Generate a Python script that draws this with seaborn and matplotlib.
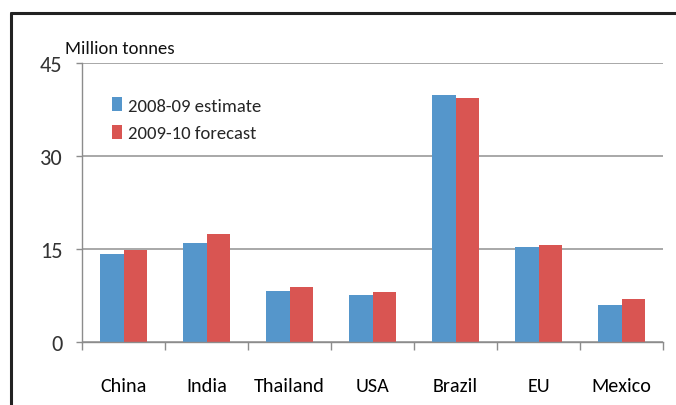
import matplotlib
matplotlib.use("Agg")
import matplotlib.pyplot as plt
import matplotlib.lines as mlines
import seaborn as sns
import pandas as pd

# Sugar production by country, million tonnes
countries = ["China", "India", "Thailand", "USA", "Brazil", "EU", "Mexico"]
estimate_2008_09 = [14.2, 15.9, 8.2, 7.6, 39.8, 15.4, 6.0]
forecast_2009_10 = [14.9, 17.4, 8.8, 8.0, 39.4, 15.6, 7.0]
series_names = ["2008-09 estimate", "2009-10 forecast"]
y_ticks = [0, 15, 30, 45]

df = pd.DataFrame({
    "country": countries * 2,
    "value": estimate_2008_09 + forecast_2009_10,
    "series": [series_names[0]] * len(countries) + [series_names[1]] * len(countries),
})

sns.set_theme(style="white")
plt.rcParams["font.family"] = ["Carlito", "Lato", "DejaVu Sans"]

fig = plt.figure(figsize=(6.76, 4.06), dpi=100)
ax = fig.add_axes([82 / 676, 1 - 343 / 406, (663 - 82) / 676, (343 - 64) / 406])

palette = {series_names[0]: "#5596CB", series_names[1]: "#D95552"}
sns.barplot(data=df, x="country", y="value", hue="series", order=countries,
            hue_order=series_names, palette=palette, width=0.57, gap=0,
            saturation=1, edgecolor="none", linewidth=0, ax=ax)

ax.set_xlim(-0.5, len(countries) - 0.5)
ax.set_ylim(0, 45)
ax.set_yticks(y_ticks)
ax.yaxis.grid(True, color="#A8A8A8", linewidth=1.4)
ax.set_axisbelow(True)
ax.set_xlabel("")
ax.set_ylabel("")

for side in ("top", "right"):
    ax.spines[side].set_visible(False)
for side in ("left", "bottom"):
    ax.spines[side].set_color("#8C8C8C")
    ax.spines[side].set_linewidth(1.0)

# category labels at bar-group centres, tick marks at group boundaries
ax.set_xticks(range(len(countries)))
ax.set_xticklabels(countries, fontsize=14.5, color="#000000")
ax.set_xticks([i - 0.5 for i in range(len(countries) + 1)], minor=True)
ax.tick_params(axis="x", which="major", length=0, pad=25)
ax.tick_params(axis="x", which="minor", length=6, width=1, color="#8C8C8C", bottom=True)
ax.tick_params(axis="y", which="major", length=4, width=1, color="#8C8C8C", left=True,
               labelsize=16, labelcolor="#333333", pad=10)

leg = ax.legend(loc="upper left", bbox_to_anchor=(0.0516, 0.878), frameon=False,
                fontsize=13.4, handlelength=0.55, handleheight=0.8, handletextpad=0.3,
                labelspacing=0.6, borderaxespad=0, borderpad=0)

fig.text(65 / 676, 1 - 54 / 406, "Million tonnes", fontsize=13.5, color="#111111",
         va="baseline", ha="left")

# surrounding frame
fig.add_artist(mlines.Line2D([11 / 676, 1.0], [1 - 14 / 406, 1 - 14 / 406],
                             color="#222222", linewidth=2.2, transform=fig.transFigure))
fig.add_artist(mlines.Line2D([11 / 676, 11 / 676], [0.0, 1 - 14 / 406],
                             color="#222222", linewidth=2.2, transform=fig.transFigure))

fig.savefig("out.png", dpi=100)
